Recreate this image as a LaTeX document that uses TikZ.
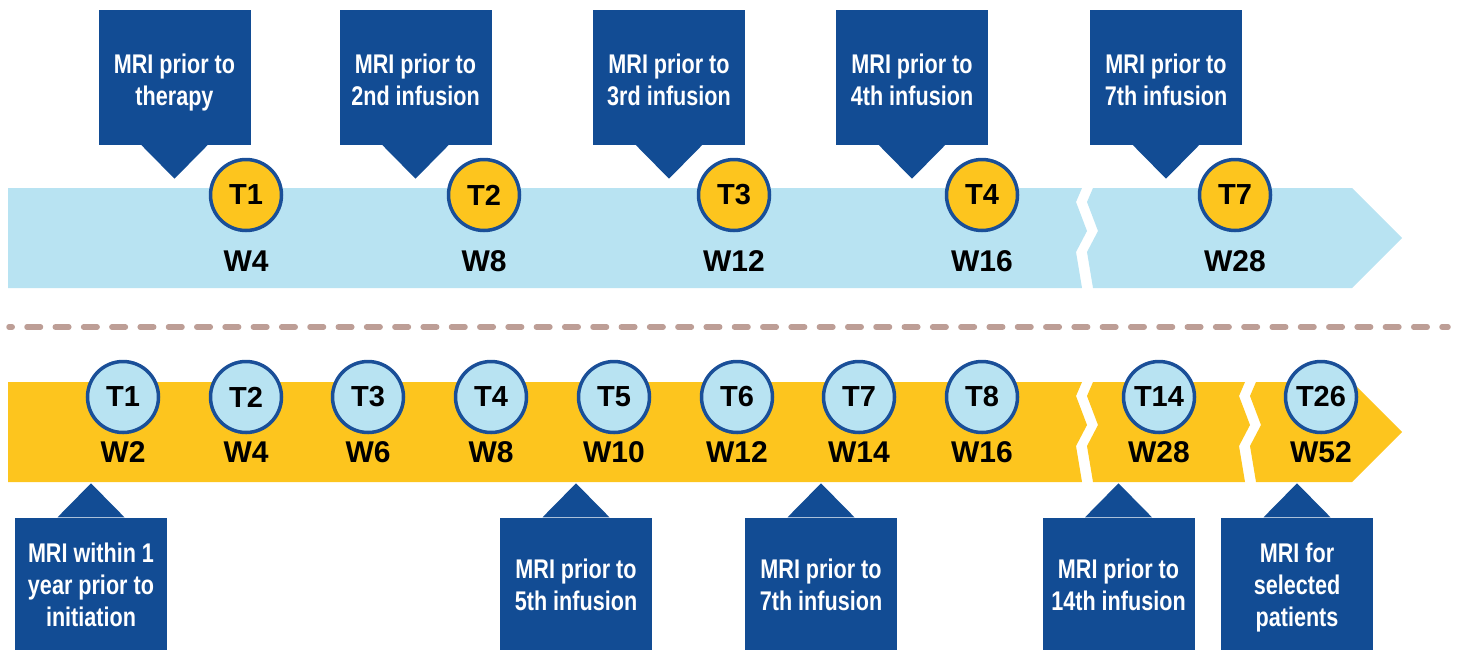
\documentclass[tikz,border=0pt]{standalone}
\usepackage{fontspec}
\setmainfont{Liberation Sans}
\newfontfamily\narrowfont{Liberation Sans}[FakeStretch=0.8]
\usetikzlibrary{positioning}
\definecolor{mriblue}{RGB}{18,76,148}
\definecolor{ringblue}{RGB}{26,79,152}
\definecolor{bandblue}{RGB}{184,227,242}
\definecolor{bandgold}{RGB}{253,197,30}
\definecolor{sepgray}{RGB}{189,158,150}
\tikzset{
  visit/.style={circle, draw=ringblue, line width=3.5pt, minimum size=71pt,
    inner sep=0pt, font=\bfseries\fontsize{29}{29}\selectfont},
  week/.style={inner sep=0pt, font=\bfseries\fontsize{30}{30}\selectfont},
  mribox/.style={fill=mriblue, minimum width=152pt, minimum height=135pt,
    inner sep=0pt},
  mritext/.style={text=white, align=center, inner sep=0pt, text depth=0pt,
    font=\narrowfont\bfseries\fontsize{27}{32}\selectfont},
}
\begin{document}
\begin{tikzpicture}[x=1pt, y=-1pt]
  \useasboundingbox (0,0) rectangle (1459,649);
  % top band (light blue)
  \fill[bandblue] (8,188) -- (1082,188) -- (1076,202) -- (1087,231)
    -- (1076,252) -- (1082,288) -- (8,288) -- cycle;
  \fill[bandblue] (1093,188) -- (1352,188) -- (1402,238) -- (1352,288)
    -- (1093,288) -- (1087,252) -- (1098,231) -- (1087,202) -- cycle;
  % bottom band (gold)
  \fill[bandgold] (8,382) -- (1082,382) -- (1076,396) -- (1087,425)
    -- (1076,446) -- (1082,482) -- (8,482) -- cycle;
  \fill[bandgold] (1093,382) -- (1245,382) -- (1239,396) -- (1250,425)
    -- (1239,446) -- (1245,482) -- (1093,482) -- (1087,446) -- (1098,425)
    -- (1087,396) -- cycle;
  \fill[bandgold] (1256,382) -- (1352,382) -- (1402,432) -- (1352,482)
    -- (1256,482) -- (1250,446) -- (1261,425) -- (1250,396) -- cycle;
  % separator
  \draw[sepgray, line width=5.5pt, line cap=round,
    dash pattern=on 13.5pt off 14.8pt, dash phase=7.5pt] (1448,327) -- (9,327);
  % visits
  \foreach \x/\t/\w in {246/1/4, 484/2/8, 734/3/12, 982/4/16, 1235/7/28} {
    \node[visit, fill=bandgold] (top\t) at (\x,195) {T\t};
    \node[week] (topw\t) at (\x,261) {W\w};
  }
  \foreach \x/\t/\w in {123/1/2, 246/2/4, 368/3/6, 491/4/8, 614/5/10,
      737/6/12, 859/7/14, 982/8/16, 1159/14/28, 1321/26/52} {
    \node[visit, fill=bandblue] (bot\t) at (\x,397) {T\t};
    \node[week] (botw\t) at (\x,452) {W\w};
  }
  % callouts above
  \foreach \x/\n/\txt in {174.5/1/{MRI prior to\\therapy},
      415.5/2/{MRI prior to\\2nd infusion}, 669/3/{MRI prior to\\3rd infusion},
      912/4/{MRI prior to\\4th infusion}, 1166/7/{MRI prior to\\7th infusion}} {
    \node[mribox] (mritop\n) at (\x,77) {};
    \fill[mriblue] ([xshift=-33.5pt]mritop\n.south) -- ([xshift=33.5pt]mritop\n.south)
      -- ([yshift=-34pt]mritop\n.south) -- cycle;
    \node[mritext] (mritoptxt\n) at ([yshift=-3pt]mritop\n.center) {\txt};
  }
  % callouts below
  \foreach \x/\n/\txt in {91/1/{MRI within 1\\year prior to\\initiation},
      576/5/{MRI prior to\\5th infusion}, 821/7/{MRI prior to\\7th infusion},
      1118.5/14/{MRI prior to\\14th infusion}, 1297/26/{MRI for\\selected\\patients}} {
    \node[mribox] (mribot\n) at (\x,585) {};
    \fill[mriblue] ([xshift=-33.5pt]mribot\n.north) -- ([xshift=33.5pt]mribot\n.north)
      -- ([yshift=34pt]mribot\n.north) -- cycle;
    \node[mritext] (mribottxt\n) at (mribot\n.center) {\txt};
  }
\end{tikzpicture}
\end{document}
